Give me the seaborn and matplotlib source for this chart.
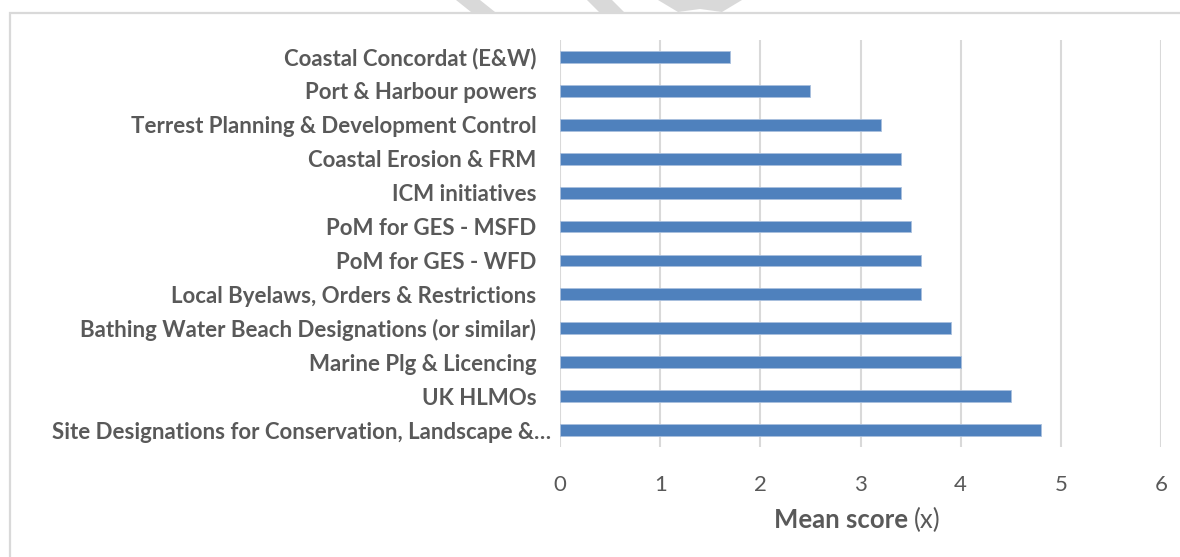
import matplotlib
matplotlib.use("Agg")
import matplotlib.pyplot as plt
from matplotlib.patches import Rectangle, Polygon
from matplotlib.transforms import ScaledTranslation
import seaborn as sns
import pandas as pd

# Policy instruments and their mean scores
instruments = [
    "Coastal Concordat (E&W)",
    "Port & Harbour powers",
    "Terrest Planning & Development Control",
    "Coastal Erosion & FRM",
    "ICM initiatives",
    "PoM for GES - MSFD",
    "PoM for GES - WFD",
    "Local Byelaws, Orders & Restrictions",
    "Bathing Water Beach Designations (or similar)",
    "Marine Plg & Licencing",
    "UK HLMOs",
    "Site Designations for Conservation, Landscape &\u2026",
]
mean_scores = [1.7, 2.5, 3.2, 3.4, 3.4, 3.5, 3.6, 3.6, 3.9, 4.0, 4.5, 4.8]
x_ticks = [0, 1, 2, 3, 4, 5, 6]

df = pd.DataFrame({"instrument": instruments, "score": mean_scores})

sns.set_theme(style="white")
plt.rcParams["font.family"] = ["Lato", "DejaVu Sans"]

W, H = 1180, 557
fig = plt.figure(figsize=(W / 100, H / 100), dpi=100)
fig.patch.set_facecolor("white")

GREY = "#d9d9d9"
TEXT = "#595959"

# page watermark fragments peeking above the chart frame
for pts in [
    [(456, 0), (480, 0), (495, 12), (471, 12)],
    [(587, 0), (612, 0), (624, 12), (599, 12)],
    [(658, 0), (742, 0), (722, 12), (700, 9), (678, 12)],
]:
    fig.patches.append(Polygon([(x / W, 1 - y / H) for x, y in pts],
                               closed=True, transform=fig.transFigure,
                               facecolor=GREY, edgecolor="none", zorder=0))

# chart frame
fig.patches.append(Rectangle((10 / W, -0.05), 1.2, 1 - 12.5 / H + 0.05,
                             transform=fig.transFigure, facecolor="white",
                             edgecolor=GREY, linewidth=1.6, zorder=1))

ax = fig.add_axes([560 / W, 1 - 447 / H, (1161 - 560) / W, (447 - 40) / H])
ax.set_zorder(2)
ax.patch.set_alpha(0)

sns.barplot(data=df, x="score", y="instrument", orient="h", ax=ax,
            color="#4F81BD", saturation=1, width=0.35,
            edgecolor="#a9c0de", linewidth=0.6, zorder=3)

ax.set_xlim(0, 6)
ax.set_xticks(x_ticks)
ax.set_xticklabels([str(t) for t in x_ticks])
ax.set_ylim(len(instruments) - 0.5, -0.5)
ax.grid(axis="x", color=GREY, linewidth=1.5, zorder=0)
ax.grid(axis="y", visible=False)
for s in ax.spines.values():
    s.set_visible(False)

ax.tick_params(axis="y", length=0, pad=17, labelsize=16, labelcolor=TEXT)
ax.tick_params(axis="x", length=0, pad=20, labelsize=16, labelcolor=TEXT)
ylabels = ax.get_yticklabels()
for lab in ylabels:
    lab.set_fontweight("bold")
# the truncated last label sits closer to the axis
ylabels[-1].set_transform(ylabels[-1].get_transform()
                          + ScaledTranslation(0.15, 0, fig.dpi_scale_trans))

ax.set_ylabel("")
ax.set_xlabel("")

# axis title: bold "Mean score" followed by regular "(x)"
fig.text(914 / W, 1 - 520 / H, "Mean score ", ha="right", va="center",
         fontsize=18.5, fontweight="bold", color=TEXT)
fig.text(914 / W, 1 - 520 / H, "(x)", ha="left", va="center",
         fontsize=18.5, color=TEXT)

fig.savefig("out.png", dpi=100, facecolor="white")
